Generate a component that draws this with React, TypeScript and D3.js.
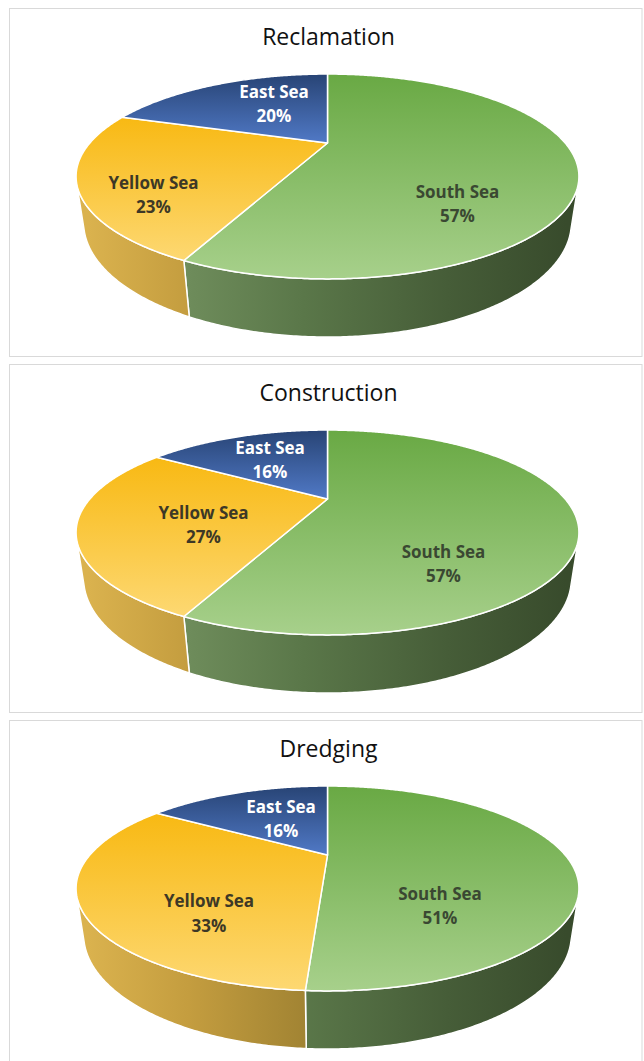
import React from "react";
import * as d3 from "d3";

// ---- data ----
const categories = ["South Sea", "Yellow Sea", "East Sea"];
const chartTitles = ["Reclamation", "Construction", "Dredging"];
const reclamation = [57, 23, 20];
const construction = [57, 27, 16];
const dredging = [51, 33, 16];
const seriesList = [reclamation, construction, dredging];

// ---- layout / style ----
const W = 644;
const H = 1061;
const PANEL_TOPS = [8, 364, 720];
const PANEL_X = 9.5;
const PANEL_W = 632.5;
const PANEL_H = 348;
const CX = 327.5;
const APEX_DY = 135;
const FOCAL = 671;
const DIST = 2.824;
const SIN_A = 0.385;
const COS_A = Math.sqrt(1 - SIN_A * SIN_A);
const DEPTH = 0.203;
const TITLE_DY = 36.5;

// label anchors (line-1 centre) relative to the pie apex, per panel, per category
const labelOffsets = [
  [[130, 48.5], [-174, 39.5], [-53.5, -51.5]],
  [[116, 52.5], [-124, 13.5], [-57.5, -51.4]],
  [[112.5, 38.5], [-118.5, 46], [-46.5, -48.5]],
];

const topColors = [
  ["#69a944", "#a7d08b"],
  ["#f8b913", "#fdd872"],
  ["#284475", "#5079c6"],
];
const sideStops = [
  [[0, "#7c9b69"], [0.22, "#6d8b5a"], [0.45, "#5a7749"], [0.75, "#465d38"], [1, "#384b2c"]],
  [[0, "#dab24e"], [0.21, "#c49d3f"], [0.45, "#a28433"], [1, "#7d6220"]],
  [[0, "#3b5a95"], [1, "#24406f"]],
];
const labelColors = ["#3a4832", "#3d3826", "#ffffff"];

function project(theta: number, z: number, cy: number): [number, number] {
  const x = Math.sin(theta);
  const y = Math.cos(theta);
  const depth = DIST + y * COS_A - z * SIN_A;
  return [CX + (FOCAL * x) / depth, cy - (FOCAL * (y * SIN_A + z * COS_A)) / depth];
}

function arcPoints(a0: number, a1: number, z: number, cy: number) {
  const n = Math.max(2, Math.ceil(Math.abs(a1 - a0) / (Math.PI / 360)));
  const pts: [number, number][] = [];
  for (let i = 0; i <= n; i++) {
    pts.push(project(a0 + ((a1 - a0) * i) / n, z, cy));
  }
  return pts;
}

const line = d3.line<[number, number]>().curve(d3.curveLinear);

// front-visible wall range
const T_A = Math.acos(-1 / (DIST * COS_A));
const T_B = 2 * Math.PI - T_A;

function Panel({ idx }: { idx: number }) {
  const top = PANEL_TOPS[idx];
  const cy = top + APEX_DY;
  const values = seriesList[idx];
  const arcs = d3
    .pie<number>()
    .sort(null)
    .value((d) => d)(values);
  const left = project(-Math.PI / 2, 0, cy)[0] - 2;
  const right = project(Math.PI / 2, 0, cy)[0] + 2;

  const walls = arcs
    .map((a, i) => {
      const b0 = Math.max(a.startAngle, T_A);
      const b1 = Math.min(a.endAngle, T_B);
      if (b1 <= b0) return null;
      const pts = [...arcPoints(b0, b1, 0, cy), ...arcPoints(b1, b0, -DEPTH, cy)];
      return { i, d: line(pts) + "Z" };
    })
    .filter(Boolean) as { i: number; d: string }[];

  const tops = arcs.map((a, i) => {
    const pts: [number, number][] = [[CX, cy], ...arcPoints(a.startAngle, a.endAngle, 0, cy)];
    return { i, d: line(pts) + "Z" };
  });

  return (
    <g>
      <defs>
        {categories.map((c, i) => (
          <linearGradient key={"t" + i} id={`top-${idx}-${i}`} x1="0" y1="0" x2="0" y2="1">
            <stop offset="0" stopColor={topColors[i][0]} />
            <stop offset="1" stopColor={topColors[i][1]} />
          </linearGradient>
        ))}
        {categories.map((c, i) => (
          <linearGradient
            key={"s" + i}
            id={`side-${idx}-${i}`}
            gradientUnits="userSpaceOnUse"
            x1={left}
            y1="0"
            x2={right}
            y2="0"
          >
            {sideStops[i].map((s, k) => (
              <stop key={k} offset={s[0] as number} stopColor={s[1] as string} />
            ))}
          </linearGradient>
        ))}
      </defs>
      <rect
        x={PANEL_X}
        y={top + 0.5}
        width={PANEL_W}
        height={PANEL_H}
        fill="#ffffff"
        stroke="#d9d9d9"
        strokeWidth={1}
      />
      <text
        x={CX + 1}
        y={top + TITLE_DY}
        textAnchor="middle"
        fontFamily="'Open Sans', sans-serif"
        fontSize={23}
        fill="#111111"
      >
        {chartTitles[idx]}
      </text>
      {walls.map((w) => (
        <path
          key={"w" + w.i}
          d={w.d}
          fill={`url(#side-${idx}-${w.i})`}
          stroke="#ffffff"
          strokeWidth={1.5}
          strokeLinejoin="round"
        />
      ))}
      {tops.map((t) => (
        <path
          key={"p" + t.i}
          d={t.d}
          fill={`url(#top-${idx}-${t.i})`}
          stroke="#ffffff"
          strokeWidth={1.5}
          strokeLinejoin="round"
        />
      ))}
      {arcs.map((a, i) => {
        const [dx, dy] = labelOffsets[idx][i];
        const x = CX + dx;
        const y = cy + dy + 6;
        return (
          <text
            key={"l" + i}
            textAnchor="middle"
            fontFamily="'Open Sans', sans-serif"
            fontWeight="bold"
            fontSize={17}
            fill={labelColors[i]}
          >
            <tspan x={x} y={y}>
              {categories[i]}
            </tspan>
            <tspan x={x} y={y + 24.5}>
              {`${values[i]}%`}
            </tspan>
          </text>
        );
      })}
    </g>
  );
}

export default function App() {
  return (
    <svg
      width={W}
      height={H}
      viewBox={`0 0 ${W} ${H}`}
      style={{ position: "absolute", left: 0, top: 0, background: "#ffffff" }}
    >
      <rect x={0} y={0} width={W} height={H} fill="#ffffff" />
      {chartTitles.map((t, i) => (
        <Panel key={t} idx={i} />
      ))}
    </svg>
  );
}
